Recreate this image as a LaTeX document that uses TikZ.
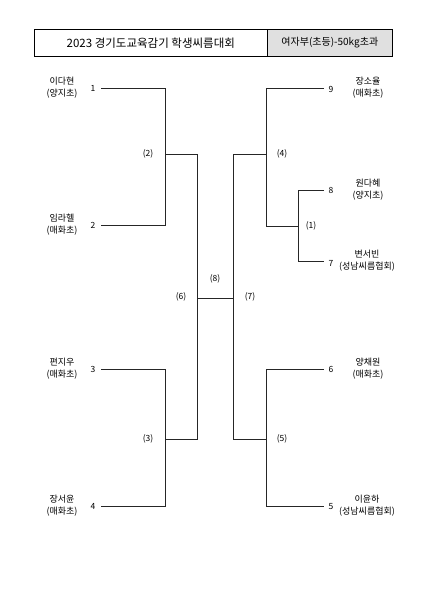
\documentclass[tikz,border=0pt]{standalone}
\usepackage{fontspec}
\newfontfamily\kr{Noto Sans CJK KR}
\begin{document}
\begin{tikzpicture}[x=1pt,y=-1pt,
  ln/.style={line width=0.7pt,black!85},
  nm/.style={font=\kr\fontsize{9}{12}\selectfont,align=center,inner sep=0},
  num/.style={font=\kr\fontsize{8.5}{10}\selectfont,inner sep=0},
  mt/.style={font=\kr\fontsize{8.5}{10}\selectfont,inner sep=0}]
\useasboundingbox (0,0) rectangle (424,600);
% title
\node[draw,line width=0.6pt,minimum width=233pt,minimum height=27pt,inner sep=0,anchor=north west,font=\kr\fontsize{11.5}{13}\selectfont] (title) at (34,29) {2023 경기도교육감기 학생씨름대회};
\node[draw,line width=0.6pt,fill=black!12,minimum width=125pt,minimum height=27pt,inner sep=0,anchor=north west,font=\kr\fontsize{10}{12}\selectfont] (cat) at (267,29) {여자부(초등)-50kg초과};
% coordinates
\coordinate (p1) at (101,88); \coordinate (q1) at (165,88);
\coordinate (p2) at (101,225); \coordinate (q2) at (165,225);
\coordinate (p3) at (101,369); \coordinate (q3) at (165,369);
\coordinate (p4) at (101,506); \coordinate (q4) at (165,506);
\coordinate (m2) at (165,154); \coordinate (m2r) at (197,154);
\coordinate (m3) at (165,439); \coordinate (m3r) at (197,439);
\coordinate (c6) at (197,298); \coordinate (c7) at (233,298);
\coordinate (m4l) at (233,154); \coordinate (m4) at (266,154);
\coordinate (m5l) at (233,439); \coordinate (m5) at (266,439);
\coordinate (p9) at (324,88); \coordinate (q9) at (266,88);
\coordinate (m1l) at (266,226); \coordinate (m1) at (298,226);
\coordinate (p8) at (324,190); \coordinate (q8) at (298,190);
\coordinate (p7) at (324,261); \coordinate (q7) at (298,261);
\coordinate (p6) at (324,369); \coordinate (q6) at (266,369);
\coordinate (p5) at (324,506); \coordinate (q5) at (266,506);
% left bracket
\draw[ln] (p1) -- (q1) -- (q2) -- (p2);
\draw[ln] (m2) -- (m2r) -- (m3r) -- (m3);
\draw[ln] (p3) -- (q3) -- (q4) -- (p4);
\draw[ln] (c6) -- (c7);
% right bracket
\draw[ln] (m4) -- (m4l) -- (m5l) -- (m5);
\draw[ln] (p9) -- (q9) -- (m1l) -- (m1);
\draw[ln] (p8) -- (q8) -- (q7) -- (p7);
\draw[ln] (p6) -- (q6) -- (q5) -- (p5);
% numbers
\node[num] (n1) at (93,88) {1};
\node[num] (n2) at (93,225) {2};
\node[num] (n3) at (93,369) {3};
\node[num] (n4) at (93,506) {4};
\node[num] (n9) at (331,89) {9};
\node[num] (n8) at (331,190) {8};
\node[num] (n7) at (331,263) {7};
\node[num] (n6) at (331,369) {6};
\node[num] (n5) at (331,507) {5};
% names
\node[nm] (a1) at (62,88) {이다현\\(양지초)};
\node[nm] (a2) at (62,225) {임라헬\\(매화초)};
\node[nm] (a3) at (62,369) {편지우\\(매화초)};
\node[nm] (a4) at (62,506) {장서윤\\(매화초)};
\node[nm] (a9) at (368,88) {장소율\\(매화초)};
\node[nm] (a8) at (368,190) {원다혜\\(양지초)};
\node[nm] (a7) at (367,261) {변서빈\\(성남씨름협회)};
\node[nm] (a6) at (368,369) {양채원\\(매화초)};
\node[nm] (a5) at (367,506) {이윤하\\(성남씨름협회)};
% match labels
\node[mt] (l2) at (148,154) {(2)};
\node[mt] (l3) at (148,439) {(3)};
\node[mt] (l6) at (181,297) {(6)};
\node[mt] (l8) at (215,279) {(8)};
\node[mt] (l7) at (250,297) {(7)};
\node[mt] (l4) at (282,154) {(4)};
\node[mt] (l1) at (311,226) {(1)};
\node[mt] (l5) at (282,439) {(5)};
\end{tikzpicture}
\end{document}
